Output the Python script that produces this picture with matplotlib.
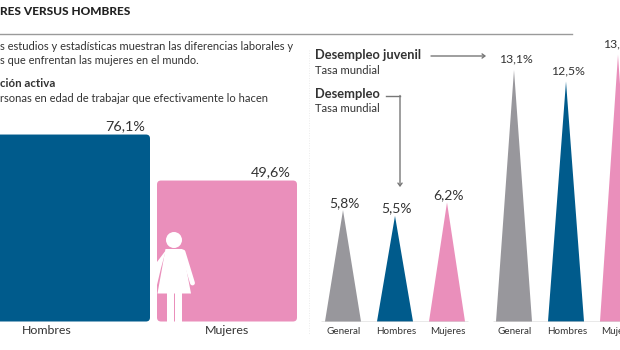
import matplotlib
matplotlib.use("Agg")
import matplotlib.pyplot as plt
from matplotlib.patches import FancyBboxPatch, Circle, Polygon

plt.rcParams['font.family'] = ['Lato', 'DejaVu Sans']

BLUE = '#005b8c'
PINK = '#ea8fbb'
GRAY = '#98979c'
INK = '#333333'

# participacion activa
part_labels = ['Hombres', 'Mujeres']
part_values = [76.1, 49.6]
part_text = ['76,1%', '49,6%']
part_colors = [BLUE, PINK]

# desempleo y desempleo juvenil
tri_labels = ['General', 'Hombres', 'Mujeres']
tri_colors = [GRAY, BLUE, PINK]
desempleo = [5.8, 5.5, 6.2]
desempleo_text = ['5,8%', '5,5%', '6,2%']
juvenil = [13.1, 12.5, 13.9]
juvenil_text = ['13,1%', '12,5%', '13,9%']

W, H = 620, 350
fig = plt.figure(figsize=(6.2, 3.5), dpi=100, facecolor='white')

# pixel layer for the text and rules
ax = fig.add_axes([0, 0, 1, 1])
ax.set_xlim(0, W)
ax.set_ylim(H, 0)
ax.axis('off')

# bars: the value axis starts below zero
base_y = 321.5
px_per_unit = 1.736
bar_min = -31.6
ax_bar = fig.add_axes([0, (H - base_y) / H, 1, base_y / H])
ax_bar.set_xlim(0, W)
ax_bar.set_ylim(bar_min, bar_min + base_y / px_per_unit)
ax_bar.axis('off')
ax_bar.patch.set_alpha(0)

bar_lefts = [-40, 157]
bar_rights = [150, 297]
for i in range(2):
    r = 4
    box = FancyBboxPatch((bar_lefts[i] + r, bar_min + r / px_per_unit),
                         bar_rights[i] - bar_lefts[i] - 2 * r,
                         part_values[i] - bar_min - 2 * r / px_per_unit,
                         boxstyle='round,pad=%d' % r,
                         mutation_aspect=1 / px_per_unit,
                         fc=part_colors[i], ec='none')
    ax_bar.add_patch(box)

label_x = [125, 271]
for i in range(2):
    ax_bar.annotate(part_text[i], (label_x[i], part_values[i]), xytext=(0, 2),
                    textcoords='offset points', ha='center', va='bottom',
                    fontsize=10.4, color=INK)

ax.text(47, 330, part_labels[0], ha='center', va='center', fontsize=8.9, color=INK)
ax.text(226.5, 330, part_labels[1], ha='center', va='center', fontsize=8.9, color=INK)

# triangles
tri_per_px = 1 / 19.2
ax_tri = fig.add_axes([0, (H - base_y) / H, 1, base_y / H])
ax_tri.set_xlim(0, W)
ax_tri.set_ylim(0, base_y * tri_per_px)
ax_tri.axis('off')
ax_tri.patch.set_alpha(0)

half = 18
groups = [([343, 395, 447], desempleo, desempleo_text, (321, 468), 10, 1),
          ([514, 566, 618], juvenil, juvenil_text, (493, 620), 8.8, 4)]
for xs, vals, txt, span, size, gap in groups:
    ax_tri.plot(span, [0, 0], color='#8f8f8f', lw=1, solid_capstyle='butt')
    for i in range(3):
        ax_tri.fill([xs[i] - half, xs[i], xs[i] + half], [0, vals[i], 0],
                    color=tri_colors[i], lw=0)
        ax_tri.annotate(txt[i], (xs[i] + 1.5, vals[i]), xytext=(0, gap),
                        textcoords='offset points', ha='center', va='bottom',
                        fontsize=size, color=INK)
        ax.text(xs[i] + 1, 331, tri_labels[i], ha='center', va='center',
                fontsize=7.1, color=INK)

# figura de mujer
ax_fig = fig.add_axes([0, 0, 1, 1])
ax_fig.set_xlim(0, W)
ax_fig.set_ylim(H, 0)
ax_fig.axis('off')
ax_fig.patch.set_alpha(0)
ax_fig.add_patch(Circle((174, 240), 8, fc='white', ec='none'))
ax_fig.add_patch(Polygon([(165.5, 249), (182.5, 249), (191, 293.5), (157.5, 293.5)], fc='white', ec='none'))
ax_fig.add_patch(Polygon([(166, 250), (157, 262), (157, 285), (161, 268)], fc='white', ec='none'))
ax_fig.plot([183, 192.5], [252, 283], color='white', lw=3.5, solid_capstyle='round')
ax_fig.add_patch(Polygon([(166.5, 293), (173.8, 293), (173.8, 321.5), (166.5, 321.5)], fc='white', ec='none'))
ax_fig.add_patch(Polygon([(175, 293), (182, 293), (182, 321.5), (175, 321.5)], fc='white', ec='none'))

# textos
ax.text(0, 11.5, 'RES VERSUS HOMBRES', fontsize=8.6, fontweight='black', color='#222222', va='center')
ax.plot([0, 572], [34, 34], color='#9a9a9a', lw=1)
ax.text(0, 46.5, 's estudios y estadísticas muestran las diferencias laborales y',
        fontsize=8, color=INK, va='center')
ax.text(0, 60, 's que enfrentan las mujeres en el mundo.', fontsize=7.9, color=INK, va='center')
ax.text(0, 83.5, 'ción activa', fontsize=8.3, fontweight='bold', color=INK, va='center')
ax.text(0, 98, 'rsonas en edad de trabajar que efectivamente lo hacen', fontsize=8, color=INK, va='center')

ax.text(315, 55, 'Desempleo juvenil', fontsize=9.3, fontweight='bold', color=INK, va='center')
ax.text(315, 70, 'Tasa mundial', fontsize=8.1, color=INK, va='center')
ax.text(315, 94.5, 'Desempleo', fontsize=9.3, fontweight='bold', color=INK, va='center')
ax.text(315, 109, 'Tasa mundial', fontsize=8.1, color=INK, va='center')

ax.annotate('', xy=(486, 56), xytext=(431, 56),
            arrowprops=dict(arrowstyle='->,head_length=0.2,head_width=0.15', color='#777777', lw=1, shrinkA=0, shrinkB=0))
ax.plot([386, 400], [95.5, 95.5], color='#777777', lw=1)
ax.annotate('', xy=(400, 187), xytext=(400, 95.5),
            arrowprops=dict(arrowstyle='->,head_length=0.2,head_width=0.15', color='#777777', lw=1, shrinkA=0, shrinkB=0))

ax.plot([308.5, 308.5], [50, 335], color='#e6e6e6', lw=0.6, ls=(0, (1, 2)))

fig.savefig('out.png', dpi=100)
